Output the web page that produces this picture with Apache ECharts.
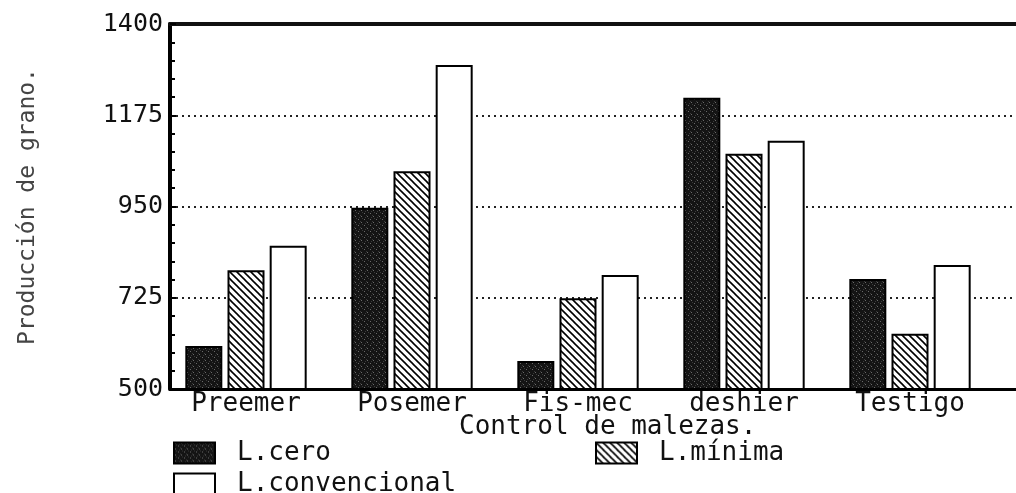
<!DOCTYPE html>
<html>
<head>
<meta charset="utf-8">
<script src="https://cdn.jsdelivr.net/npm/echarts@6/dist/echarts.min.js"></script>
<style>
html,body{margin:0;padding:0;background:#fff;}
#chart{width:1016px;height:493px;}
</style>
</head>
<body>
<div id="chart"></div>
<script>
const categories = ['Preemer', 'Posemer', 'Fis-mec', 'deshier', 'Testigo'];
const seriesNames = ['L.cero', 'L.mínima', 'L.convencional'];
const lCero = [606, 947, 569, 1218, 771];
const lMinima = [793, 1037, 724, 1080, 636];
const lConvencional = [853, 1299, 781, 1112, 806];
const yMin = 500, yMax = 1400, yStep = 225;
const yName = 'Producción de grano.';
const xName = 'Control de malezas.';

const FONT = '"DejaVu Sans Mono", "Liberation Mono", monospace';

function darkPattern() {
  const c = document.createElement('canvas');
  c.width = 6; c.height = 6;
  const g = c.getContext('2d');
  g.fillStyle = '#141414';
  g.fillRect(0, 0, 6, 6);
  g.fillStyle = '#6a6a6a';
  g.fillRect(1, 0, 1, 1);
  g.fillRect(4, 3, 1, 1);
  g.fillStyle = '#3a3a3a';
  g.fillRect(2, 2, 1, 1);
  g.fillRect(0, 5, 1, 1);
  g.fillRect(5, 1, 1, 1);
  return c;
}
function hatchPattern() {
  const s = 7;
  const c = document.createElement('canvas');
  c.width = s; c.height = s;
  const g = c.getContext('2d');
  g.fillStyle = '#fff';
  g.fillRect(0, 0, s, s);
  g.strokeStyle = '#000';
  g.lineWidth = 1.6;
  for (const o of [-s, 0, s]) {
    g.beginPath();
    g.moveTo(o - 1, -1);
    g.lineTo(o + s + 1, s + 1);
    g.stroke();
  }
  return c;
}

const chart = echarts.init(document.getElementById('chart'), null, {renderer: 'canvas'});

const barCommon = {
  type: 'bar',
  xAxisIndex: 2,
  yAxisIndex: 1,
  barWidth: 37,
  barGap: '14%'
};

chart.setOption({
  backgroundColor: '#fff',
  animation: false,
  title: {
    text: xName,
    left: 454,
    top: 409,
    textStyle: {fontFamily: FONT, fontSize: 26, fontWeight: 'normal', color: '#111', lineHeight: 26}
  },
  legend: {
    data: seriesNames,
    left: 168,
    top: 435,
    width: 848,
    itemWidth: 41,
    itemHeight: 21,
    itemGap: 5,
    icon: 'rect',
    textStyle: {fontFamily: FONT, fontSize: 26, color: '#111', lineHeight: 26, width: 353, padding: [0, 0, 0, 17]}
  },
  grid: [
    {left: 170, right: 0, top: 24, bottom: 104},
    {left: 163, right: 23, top: 24, bottom: 104}
  ],
  xAxis: [
    {gridIndex: 0, type: 'value', min: 0, max: 1, position: 'bottom',
      axisLine: {show: true, lineStyle: {color: '#000', width: 3}},
      axisTick: {show: false}, axisLabel: {show: false}, splitLine: {show: false}},
    {gridIndex: 0, type: 'value', min: 0, max: 1, position: 'top',
      axisLine: {show: true, lineStyle: {color: '#111', width: 4}},
      axisTick: {show: false}, axisLabel: {show: false}, splitLine: {show: false}},
    {gridIndex: 1, type: 'category', data: categories,
      axisLine: {show: false}, axisTick: {show: false}, splitLine: {show: false},
      axisLabel: {fontFamily: FONT, fontSize: 26, color: '#111', margin: 2, lineHeight: 26}}
  ],
  yAxis: [
    {gridIndex: 0, type: 'value', min: yMin, max: yMax, interval: yStep,
      name: yName, nameLocation: 'middle', nameGap: 130,
      nameTextStyle: {fontFamily: FONT, fontSize: 23, color: '#444'},
      axisLine: {show: true, lineStyle: {color: '#000', width: 4}},
      axisTick: {show: true, inside: true, length: 6, lineStyle: {color: '#000', width: 2}},
      minorTick: {show: true, splitNumber: 5, length: 5, lineStyle: {color: '#000', width: 2}},
      axisLabel: {fontFamily: FONT, fontSize: 25, color: '#111', margin: 7,
        formatter: function (v) { return String(v); }},
      splitLine: {show: true, lineStyle: {color: '#222', width: 2, type: [2, 4]}}},
    {gridIndex: 1, type: 'value', min: yMin, max: yMax, interval: yStep, show: false,
      splitLine: {show: false}}
  ],
  series: [
    Object.assign({}, barCommon, {name: seriesNames[0], data: lCero,
      itemStyle: {color: {image: darkPattern(), repeat: 'repeat'}, borderColor: '#000', borderWidth: 2}}),
    Object.assign({}, barCommon, {name: seriesNames[1], data: lMinima,
      itemStyle: {color: {image: hatchPattern(), repeat: 'repeat'}, borderColor: '#000', borderWidth: 2}}),
    Object.assign({}, barCommon, {name: seriesNames[2], data: lConvencional,
      itemStyle: {color: '#fff', borderColor: '#000', borderWidth: 2}})
  ]
});
</script>
</body>
</html>
